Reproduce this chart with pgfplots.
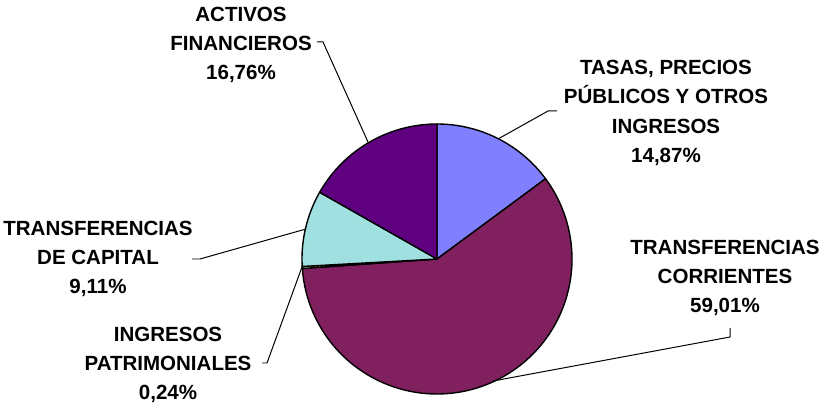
\documentclass[border=0pt]{standalone}
\usepackage{pgfplots}
\pgfplotsset{compat=1.18}
\usepackage{fontspec}
\setmainfont{Liberation Sans}
\definecolor{cTasas}{HTML}{8080FF}
\definecolor{cCorr}{HTML}{80205F}
\definecolor{cPatr}{HTML}{FFFFC0}
\definecolor{cCap}{HTML}{A0E0E0}
\definecolor{cAct}{HTML}{5F0080}
% percentages, clockwise from 12 o'clock
\def\pTasas{14.87}
\def\pCorr{59.01}
\def\pPatr{0.24}
\def\pCap{9.11}
\def\pAct{16.76}
\pgfmathsetmacro{\aA}{90}
\pgfmathsetmacro{\aB}{\aA-3.6*\pTasas}
\pgfmathsetmacro{\aC}{\aB-3.6*\pCorr}
\pgfmathsetmacro{\aD}{\aC-3.6*\pPatr}
\pgfmathsetmacro{\aE}{\aD-3.6*\pCap}
\pgfmathsetmacro{\aF}{-270}
\begin{document}
\begin{tikzpicture}
\begin{axis}[
  name=pie,
  width=823bp, height=407bp, scale only axis,
  xmin=0, xmax=823, ymin=0, ymax=407,
  axis lines=none, ticks=none, clip=false,
  every axis plot/.append style={draw=black, line width=1.4pt, line join=round},
]
\addplot[fill=cTasas, domain=\aB:\aA, samples=60] ({437+135*cos(x)},{148+135*sin(x)}) -- (437,148) -- cycle;
\addplot[fill=cCorr, domain=\aC:\aB, samples=200] ({437+135*cos(x)},{148+135*sin(x)}) -- (437,148) -- cycle;
\addplot[fill=cPatr, domain=\aD:\aC, samples=4] ({437+135*cos(x)},{148+135*sin(x)}) -- (437,148) -- cycle;
\addplot[fill=cCap, domain=\aE:\aD, samples=40] ({437+135*cos(x)},{148+135*sin(x)}) -- (437,148) -- cycle;
\addplot[fill=cAct, domain=\aF:\aE, samples=60] ({437+135*cos(x)},{148+135*sin(x)}) -- (437,148) -- cycle;
% leader lines
\draw[black, line width=1pt] (317,365) -- (323,365) -- (368,265);
\draw[black, line width=1pt] (498,268) -- (548,296) -- (557,296);
\draw[black, line width=1pt] (493,26) -- (730,70) -- (730,79);
\draw[black, line width=1pt] (192,148) -- (200,148) -- (306,178);
\draw[black, line width=1pt] (262,44) -- (267,44) -- (302,140);
% labels
\tikzset{lbl/.style={align=center, inner sep=0pt, font=\fontsize{20.6}{29.5}\selectfont\bfseries}}
\node[lbl] at (241,362) {ACTIVOS\\FINANCIEROS\\16,76\%};
\node[lbl] at (666,294) {TASAS, PRECIOS\\PÚBLICOS Y OTROS\\INGRESOS\\14,87\%};
\node[lbl] at (725,129) {TRANSFERENCIAS\\CORRIENTES\\59,01\%};
\node[lbl] at (98,148) {TRANSFERENCIAS\\DE CAPITAL\\9,11\%};
\node[lbl] at (168,42) {INGRESOS\\PATRIMONIALES\\0,24\%};
\end{axis}
\pgfresetboundingbox
\path (pie.south west) rectangle (pie.north east);
\end{tikzpicture}
\end{document}
